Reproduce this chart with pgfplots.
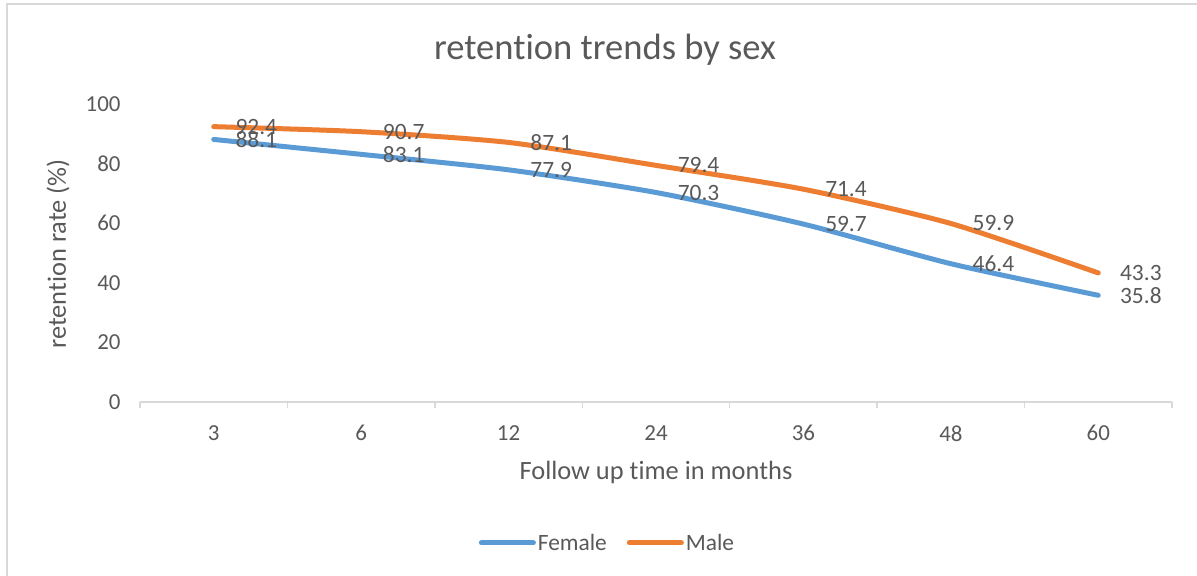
\documentclass[border=0pt]{standalone}
\usepackage{pgfplots}
\pgfplotsset{compat=1.18}
\usepackage{fontspec}
\setmainfont{Carlito}[Ligatures={NoCommon}]
\definecolor{fem}{HTML}{5B9BD5}
\definecolor{mal}{HTML}{ED7D31}
\definecolor{txt}{HTML}{595959}
\definecolor{brd}{HTML}{D9D9D9}

\pgfplotstableread{
x y
0 88.1
1 83.1
2 77.9
3 70.3
4 59.7
5 46.4
6 35.8
}\female
\pgfplotstableread{
x y
0 92.4
1 90.7
2 87.1
3 79.4
4 71.4
5 59.9
6 43.3
}\male

\begin{document}
\begin{tikzpicture}[x=1bp,y=1bp]
\path[use as bounding box] (0,0) rectangle (1197,576);
\draw[brd, line width=2bp] (7,0) -- (7,571.5) -- (1197,571.5);
\node[font=\fontsize{36.7}{44}\selectfont, text=txt] at (605,526) {retention trends by sex};
\node[font=\fontsize{26.5}{32}\selectfont, text=txt] at (656,104) {Follow up time in months};
\node[font=\fontsize{26.5}{32}\selectfont, text=txt, rotate=90] at (58,322) {retention rate (\%)};
\begin{axis}[
  at={(140bp,174bp)}, anchor=south west,
  scale only axis, width=1032bp, height=298bp,
  xmin=-0.5, xmax=6.5, ymin=0, ymax=100,
  xtick={0,...,6}, xticklabels={3,6,12,24,36,48,60},
  ytick={0,20,...,100},
  axis x line*=bottom, axis y line*=left,
  x axis line style={brd, line width=1.5bp, -},
  y axis line style={draw=none},
  major tick length=0pt,
  extra x ticks={-0.5,0.5,...,6.5}, extra x tick labels={},
  extra x tick style={major tick style={brd, line width=1.5bp}, major tick length=6bp, tick align=outside},
  /pgf/number format/assume math mode=true,
  tick label style={font=\fontsize{23}{28}\selectfont, text=txt},
  yticklabel style={xshift=-16bp},
  xticklabel style={yshift=-20bp},
  clip=false,
  legend columns=2,
  legend style={draw=none, at={(0.453,-0.473)}, anchor=center, font=\fontsize{23.5}{28}\selectfont, text=txt,
    /tikz/every even column/.append style={column sep=18bp}},
  legend image code/.code={\draw[#1, line width=5bp, line cap=round] (0bp,0bp) -- (52bp,0bp);},
  every node near coord/.append style={anchor=west, xshift=16bp, text=txt, font=\fontsize{23.5}{28}\selectfont},
]
\addplot[fem, line width=5bp, line cap=round, smooth, tension=0.4, nodes near coords, point meta=explicit symbolic] table[x=x, y=y, meta=y] {\female};
\addlegendentry{Female}
\addplot[mal, line width=5bp, line cap=round, smooth, tension=0.4, nodes near coords, point meta=explicit symbolic] table[x=x, y=y, meta=y] {\male};
\addlegendentry{Male}
\end{axis}
\end{tikzpicture}
\end{document}
